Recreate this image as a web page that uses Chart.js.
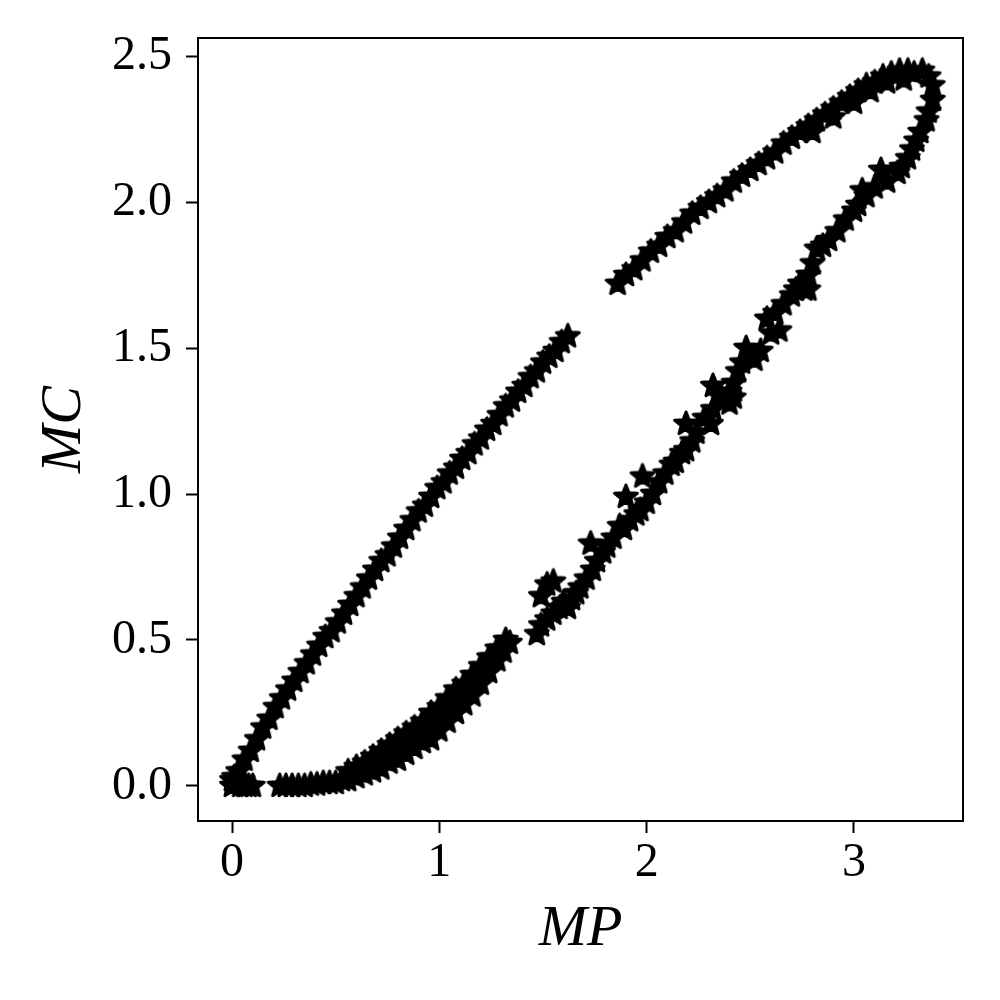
<!DOCTYPE html>
<html>
<head>
<meta charset="utf-8">
<script src="https://cdn.jsdelivr.net/npm/chart.js@4.4.0/dist/chart.umd.min.js"></script>
<style>
  html, body { margin: 0; padding: 0; background: #fff; }
</style>
</head>
<body>
<canvas id="myChart" width="1000" height="1000"></canvas>
<script>
// upper branch, first part (origin up to the gap)
const upperAMP = [0.00,0.03,0.06,0.09,0.12,0.15,0.18,0.21,0.24,0.27,0.30,0.33,0.36,0.39,0.42,0.45,0.48,0.51,0.54,0.57,
  0.60,0.63,0.66,0.69,0.72,0.75,0.78,0.81,0.84,0.87,0.90,0.93,0.96,0.99,1.02,1.05,1.08,1.11,1.14,1.17,
  1.20,1.23,1.26,1.29,1.32,1.35,1.38,1.41,1.44,1.47,1.50,1.53,1.56,1.59,1.62];
const upperAMC = [0.02,0.05,0.09,0.12,0.16,0.20,0.23,0.27,0.30,0.33,0.36,0.39,0.42,0.45,0.48,0.51,0.53,0.56,0.59,0.62,
  0.65,0.68,0.71,0.74,0.77,0.79,0.82,0.85,0.88,0.91,0.94,0.96,0.99,1.02,1.04,1.07,1.09,1.12,1.14,1.17,
  1.19,1.22,1.24,1.27,1.30,1.32,1.35,1.37,1.40,1.42,1.45,1.47,1.49,1.52,1.54];

// upper branch, second part (after the gap up to the top)
const upperBMP = [1.86,1.90,1.94,1.98,2.02,2.06,2.10,2.14,2.18,2.22,2.26,2.30,2.34,2.38,2.42,2.46,2.50,2.54,2.58,
  2.62,2.66,2.70,2.74,2.78,2.82,2.86,2.90,2.94,2.98,3.02,3.06,3.10,3.14,3.18,3.22,3.26,3.29,
  2.80,2.90,3.00,3.08,3.16,3.24];
const upperBMC = [1.72,1.75,1.77,1.80,1.83,1.85,1.88,1.90,1.93,1.96,1.98,2.00,2.02,2.04,2.07,2.09,2.11,2.13,2.15,
  2.17,2.20,2.22,2.24,2.26,2.28,2.30,2.32,2.34,2.36,2.38,2.40,2.41,2.43,2.44,2.45,2.45,2.44,
  2.24,2.29,2.34,2.38,2.41,2.42];

// lower branch, right side (top right down to MC ~ 0.6)
const lowerRMP = [3.33,3.36,3.38,3.38,3.36,3.35,3.32,3.30,3.28,3.26,3.23,3.21,3.13,3.16,3.10,3.06,3.04,3.02,3.00,2.96,
  2.92,2.88,2.85,2.82,2.80,2.78,2.74,2.76,2.72,2.78,2.70,2.66,2.62,2.58,2.64,2.60,2.55,2.48,2.52,2.46,
  2.44,2.42,2.40,2.42,2.40,2.36,2.32,2.32,2.31,2.28,2.24,2.22,2.19,2.19,2.17,2.14,2.12,2.09,2.06,2.03,
  1.98,2.00,1.97,1.95,1.90,1.92,1.89,1.87,1.84,1.81,1.79,1.73,1.76,1.74,1.71,1.68,1.66,1.64,1.62];
const lowerRMC = [2.45,2.43,2.40,2.35,2.31,2.28,2.24,2.21,2.18,2.15,2.12,2.10,2.11,2.07,2.05,2.02,2.04,1.99,1.97,1.94,
  1.90,1.87,1.85,1.84,1.79,1.75,1.72,1.70,1.70,1.70,1.68,1.65,1.62,1.60,1.56,1.55,1.49,1.50,1.46,1.45,
  1.42,1.38,1.35,1.33,1.31,1.33,1.37,1.29,1.24,1.26,1.21,1.18,1.24,1.15,1.14,1.11,1.10,1.07,1.04,1.00,
  1.06,0.97,0.945,0.93,0.99,0.91,0.88,0.89,0.85,0.82,0.80,0.83,0.77,0.74,0.71,0.68,0.66,0.64,0.61];

// lower branch, short middle piece
const lowerMMP = [1.47,1.49,1.52,1.55,1.58,1.60,1.49,1.52,1.55];
const lowerMMC = [0.52,0.55,0.57,0.59,0.61,0.63,0.65,0.69,0.70];

// lower branch, rising part (three tracks)
const lowerInMP = [0.56,0.60,0.64,0.68,0.72,0.76,0.80,0.84,0.88,0.92,0.96,1.00,1.04,1.08,1.12,1.16,1.20,1.24,1.28,1.32];
const lowerInMC = [0.05,0.065,0.08,0.10,0.12,0.14,0.16,0.18,0.20,0.22,0.25,0.27,0.30,0.33,0.35,0.38,0.41,0.44,0.47,0.50];
const lowerMidMP = [0.62,0.66,0.70,0.74,0.78,0.82,0.86,0.90,0.94,0.98,1.02,1.06,1.10,1.14,1.18,1.22,1.26,1.30];
const lowerMidMC = [0.05,0.07,0.08,0.10,0.12,0.14,0.16,0.18,0.20,0.22,0.25,0.28,0.31,0.34,0.37,0.40,0.44,0.47];
const lowerOutMP = [0.60,0.64,0.68,0.72,0.76,0.80,0.84,0.88,0.92,0.96,1.00,1.04,1.08,1.12,1.16,1.20,1.24,1.28,1.31,1.34];
const lowerOutMC = [0.03,0.04,0.05,0.06,0.08,0.09,0.11,0.13,0.15,0.16,0.19,0.22,0.25,0.28,0.31,0.35,0.39,0.43,0.46,0.49];

// lower branch, flat part and origin cluster
const flatMP = [0.23,0.26,0.29,0.32,0.35,0.38,0.41,0.44,0.47,0.50,0.53,0.56,0.00,0.02,0.04,0.06,0.08,0.10,0.01,0.05];
const flatMC = [0.00,0.00,0.00,0.00,0.00,0.005,0.005,0.01,0.01,0.01,0.02,0.02,0.00,0.01,0.00,0.00,0.00,0.00,0.03,0.02];

const xTicks = [0, 1, 2, 3];
const yTicks = [0.0, 0.5, 1.0, 1.5, 2.0, 2.5];

function pairs(xs, ys) {
  return xs.map((x, i) => ({ x: x, y: ys[i] }));
}

const points = [].concat(
  pairs(upperAMP, upperAMC),
  pairs(upperBMP, upperBMC),
  pairs(lowerRMP, lowerRMC),
  pairs(lowerMMP, lowerMMC),
  pairs(lowerInMP, lowerInMC),
  pairs(lowerMidMP, lowerMidMC),
  pairs(lowerOutMP, lowerOutMC),
  pairs(flatMP, flatMC)
);

// five point star like matplotlib's '*' marker
function makeStar(r) {
  const size = Math.ceil(r * 2 + 6);
  const c = document.createElement('canvas');
  c.width = size;
  c.height = size;
  const g = c.getContext('2d');
  const cx = size / 2, cy = size / 2;
  g.beginPath();
  for (let i = 0; i < 10; i++) {
    const rad = i % 2 === 0 ? r : r * 0.43;
    const a = -Math.PI / 2 + i * Math.PI / 5;
    const px = cx + rad * Math.cos(a);
    const py = cy + rad * Math.sin(a);
    if (i === 0) g.moveTo(px, py); else g.lineTo(px, py);
  }
  g.closePath();
  g.fillStyle = '#000';
  g.fill();
  g.lineWidth = 3;
  g.lineJoin = 'round';
  g.strokeStyle = '#000';
  g.stroke();
  return c;
}

const star = makeStar(12);

const frame = {
  id: 'frame',
  afterDatasetsDraw(chart) {
    const a = chart.chartArea;
    const c = chart.ctx;
    c.save();
    c.strokeStyle = '#000';
    c.lineWidth = 2;
    c.strokeRect(a.left, a.top, a.right - a.left, a.bottom - a.top);
    c.restore();
  }
};

const tickFont = { family: 'Liberation Serif', size: 48 };
const titleFont = { family: 'Liberation Serif', size: 58, style: 'italic' };

const ctx = document.getElementById('myChart');

new Chart(ctx, {
  type: 'scatter',
  data: {
    datasets: [{
      data: points,
      pointStyle: star,
      pointRadius: 12,
      backgroundColor: '#000',
      borderColor: '#000'
    }]
  },
  options: {
    responsive: false,
    animation: false,
    events: [],
    layout: { padding: { top: 38, right: 37, left: 0, bottom: 0 } },
    plugins: {
      legend: { display: false },
      tooltip: { enabled: false }
    },
    scales: {
      x: {
        type: 'linear',
        min: -0.164,
        max: 3.526,
        afterFit(s) {
          s.height = 179;
          s.paddingLeft = 0;
          s.paddingRight = 0;
        },
        afterBuildTicks(s) { s.ticks = xTicks.map(v => ({ value: v })); },
        ticks: {
          font: tickFont,
          color: '#000',
          padding: 2,
          maxRotation: 0,
          callback: v => String(v)
        },
        grid: { drawOnChartArea: false, drawTicks: true, tickLength: 12, tickWidth: 2, tickColor: '#000' },
        border: { color: '#000', width: 2 },
        title: { display: true, text: 'MP', font: titleFont, color: '#000', padding: { top: 0, bottom: 35 } }
      },
      y: {
        type: 'linear',
        min: -0.12,
        max: 2.562,
        afterFit(s) {
          s.width = 198;
          s.paddingTop = 0;
          s.paddingBottom = 0;
        },
        afterBuildTicks(s) { s.ticks = yTicks.map(v => ({ value: v })); },
        ticks: {
          font: tickFont,
          color: '#000',
          padding: 14,
          callback: v => v.toFixed(1)
        },
        grid: { drawOnChartArea: false, drawTicks: true, tickLength: 12, tickWidth: 2, tickColor: '#000' },
        border: { color: '#000', width: 2 },
        title: { display: true, text: 'MC', font: titleFont, color: '#000', padding: { top: 30, bottom: 0 } }
      }
    }
  },
  plugins: [frame]
});
</script>
</body>
</html>
